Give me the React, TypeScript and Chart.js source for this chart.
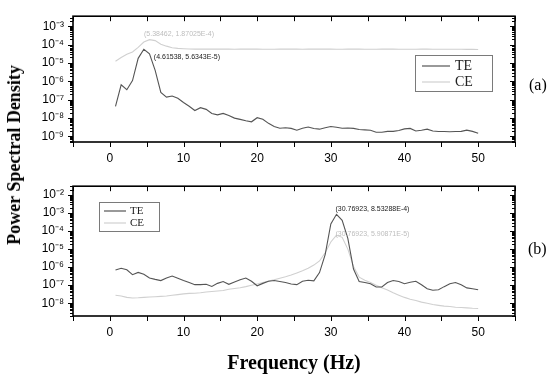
import React, { useEffect, useRef } from 'react';
import { Chart, registerables } from 'chart.js';

Chart.register(...registerables);

// ---------- data ----------
const freq = [
  0.76923, 1.53846, 2.30769, 3.07692, 3.84615, 4.61538, 5.38462, 6.15385, 6.92308, 7.69231,
  8.46154, 9.23077, 10.0, 10.76923, 11.53846, 12.30769, 13.07692, 13.84615, 14.61538, 15.38462,
  16.15385, 16.92308, 17.69231, 18.46154, 19.23077, 20.0, 20.76923, 21.53846, 22.30769, 23.07692,
  23.84615, 24.61538, 25.38462, 26.15385, 26.92308, 27.69231, 28.46154, 29.23077, 30.0, 30.76923,
  31.53846, 32.30769, 33.07692, 33.84615, 34.61538, 35.38462, 36.15385, 36.92308, 37.69231, 38.46154,
  39.23077, 40.0, 40.76923, 41.53846, 42.30769, 43.07692, 43.84615, 44.61538, 45.38462, 46.15385,
  46.92308, 47.69231, 48.46154, 49.23077, 50.0,
];

const teA = [
  4.4e-8, 6.5e-7, 3.5e-7, 1.1e-6, 1.8e-5, 5.6343e-5, 3.2e-5, 4.0e-6, 2.5e-7, 1.4e-7,
  1.6e-7, 1.2e-7, 7.1e-8, 4.4e-8, 2.6e-8, 3.7e-8, 3.0e-8, 1.8e-8, 1.5e-8, 1.8e-8,
  1.4e-8, 1.0e-8, 8.5e-9, 7.2e-9, 6.3e-9, 1.05e-8, 8.7e-9, 5.2e-9, 3.5e-9, 2.8e-9,
  3.0e-9, 2.75e-9, 2.2e-9, 2.8e-9, 3.3e-9, 2.7e-9, 2.5e-9, 3.0e-9, 3.5e-9, 3.2e-9,
  2.8e-9, 2.9e-9, 2.75e-9, 2.4e-9, 2.3e-9, 2.2e-9, 1.7e-9, 1.7e-9, 1.9e-9, 1.9e-9,
  2.1e-9, 2.6e-9, 2.75e-9, 2.0e-9, 2.2e-9, 2.5e-9, 2.0e-9, 1.85e-9, 1.85e-9, 1.8e-9,
  1.85e-9, 1.9e-9, 2.2e-9, 1.9e-9, 1.5e-9,
];

const ceA = [
  1.26e-5, 2.0e-5, 3.0e-5, 4.0e-5, 7.1e-5, 1.4e-4, 1.87025e-4, 1.66e-4, 1.05e-4, 8.3e-5,
  6.8e-5, 6.3e-5, 6.0e-5, 5.8e-5, 5.75e-5, 5.7e-5, 5.7e-5, 5.75e-5, 5.8e-5, 5.75e-5,
  5.7e-5, 5.65e-5, 5.7e-5, 5.75e-5, 5.7e-5, 5.7e-5, 5.65e-5, 5.6e-5, 5.65e-5, 5.7e-5,
  5.7e-5, 5.75e-5, 5.7e-5, 5.65e-5, 5.7e-5, 5.7e-5, 5.75e-5, 5.7e-5, 5.7e-5, 5.65e-5,
  5.65e-5, 5.7e-5, 5.7e-5, 5.7e-5, 5.65e-5, 5.6e-5, 5.65e-5, 5.7e-5, 5.7e-5, 5.7e-5,
  5.65e-5, 5.6e-5, 5.6e-5, 5.65e-5, 5.7e-5, 5.7e-5, 5.65e-5, 5.6e-5, 5.6e-5, 5.6e-5,
  5.65e-5, 5.6e-5, 5.55e-5, 5.55e-5, 5.5e-5,
];

const teB = [
  6.9e-7, 8.7e-7, 7.1e-7, 3.8e-7, 5.1e-7, 4.0e-7, 2.5e-7, 2.1e-7, 1.8e-7, 2.5e-7,
  3.2e-7, 2.4e-7, 1.8e-7, 1.4e-7, 1.07e-7, 1.07e-7, 1.12e-7, 8.5e-8, 1.26e-7, 1.6e-7,
  1.12e-7, 1.5e-7, 2.0e-7, 2.5e-7, 1.66e-7, 9.3e-8, 1.26e-7, 1.66e-7, 1.8e-7, 1.6e-7,
  1.4e-7, 1.17e-7, 1.07e-7, 1.66e-7, 1.86e-7, 1.74e-7, 5.0e-7, 5.0e-6, 2.5e-4, 8.53288e-4,
  4.0e-4, 4.0e-5, 7.9e-7, 1.6e-7, 1.4e-7, 1.2e-7, 7.9e-8, 7.9e-8, 1.4e-7, 1.8e-7,
  1.6e-7, 1.2e-7, 1.45e-7, 1.66e-7, 1.05e-7, 6.3e-8, 5.2e-8, 5.6e-8, 8.3e-8, 1.2e-7,
  1.4e-7, 1.05e-7, 7.1e-8, 6.3e-8, 5.6e-8,
];

const ceB = [
  2.75e-8, 2.5e-8, 2.1e-8, 1.95e-8, 2.0e-8, 2.1e-8, 2.2e-8, 2.3e-8, 2.4e-8, 2.5e-8,
  2.75e-8, 3.0e-8, 3.3e-8, 3.5e-8, 3.6e-8, 3.8e-8, 4.2e-8, 4.5e-8, 4.8e-8, 5.1e-8,
  5.9e-8, 6.5e-8, 7.2e-8, 8.3e-8, 9.8e-8, 1.17e-7, 1.4e-7, 1.7e-7, 2.0e-7, 2.45e-7,
  2.95e-7, 3.7e-7, 4.8e-7, 6.3e-7, 8.7e-7, 1.3e-6, 2.2e-6, 6.3e-6, 2.5e-5, 5.90871e-5,
  4.5e-5, 1.0e-5, 1.1e-6, 2.8e-7, 1.9e-7, 1.4e-7, 1.0e-7, 7.1e-8, 5.4e-8, 3.8e-8,
  2.8e-8, 2.1e-8, 1.66e-8, 1.4e-8, 1.15e-8, 1.0e-8, 8.5e-9, 7.6e-9, 6.9e-9, 6.5e-9,
  6.0e-9, 5.75e-9, 5.5e-9, 5.2e-9, 5.1e-9,
];

const xTickValues = [0, 10, 20, 30, 40, 50];
const xTickLabels = ['0', '10', '20', '30', '40', '50'];

const yTicksA = [1e-9, 1e-8, 1e-7, 1e-6, 1e-5, 1e-4, 1e-3];
const yLabelsA = ['10⁻⁹', '10⁻⁸', '10⁻⁷', '10⁻⁶', '10⁻⁵', '10⁻⁴', '10⁻³'];
const yTicksB = [1e-8, 1e-7, 1e-6, 1e-5, 1e-4, 1e-3, 1e-2];
const yLabelsB = ['10⁻⁸', '10⁻⁷', '10⁻⁶', '10⁻⁵', '10⁻⁴', '10⁻³', '10⁻²'];

const seriesNames = ['TE', 'CE'];
const peakNotesA = ['(4.61538, 5.6343E-5)', '(5.38462, 1.87025E-4)'];
const peakNotesB = ['(30.76923, 8.53288E-4)', '(30.76923, 5.90871E-5)'];

// ---------- styles ----------
const TE_COLOR = '#555555';
const CE_COLOR = '#d0d0d0';
const SANS = '"Liberation Sans", Arial, sans-serif';
const SERIF = '"Liberation Serif", "Times New Roman", serif';

function peakIndex(arr: number[]) {
  let k = 0;
  for (let i = 1; i < arr.length; i++) if (arr[i] > arr[k]) k = i;
  return k;
}

const framePlugin = {
  id: 'frame',
  afterDatasetsDraw(chart: any, _args: any, opts: any) {
    const { ctx, chartArea: a, scales } = chart;
    const xs = scales.x;
    const ys = scales.y;
    ctx.save();
    ctx.strokeStyle = '#000';
    ctx.lineWidth = 1;
    ctx.beginPath();
    for (let v = xs.min; v <= xs.max + 1e-9; v += 5) {
      const px = Math.round(xs.getPixelForValue(v)) + 0.5;
      ctx.moveTo(px, a.bottom);
      ctx.lineTo(px, a.bottom + 5);
      ctx.moveTo(px, a.top);
      ctx.lineTo(px, a.top + 5);
    }
    const lo = Math.floor(Math.log10(ys.min));
    const hi = Math.ceil(Math.log10(ys.max));
    for (let d = lo; d <= hi; d++) {
      for (let m = 1; m <= 9; m++) {
        const v = m * Math.pow(10, d);
        if (v < ys.min || v > ys.max) continue;
        const py = Math.round(ys.getPixelForValue(v)) + 0.5;
        const len = m === 1 ? 5 : 3;
        ctx.moveTo(a.left - len, py);
        ctx.lineTo(a.left, py);
        ctx.moveTo(a.right - len, py);
        ctx.lineTo(a.right, py);
      }
    }
    ctx.stroke();
    ctx.lineWidth = 1.6;
    ctx.strokeRect(a.left, a.top, a.right - a.left, a.bottom - a.top);

    // peak notes
    (opts.notes || []).forEach((n: any) => {
      const ds = chart.data.datasets[n.ds];
      const pt = ds.data[n.idx];
      const px = xs.getPixelForValue(pt.x);
      const py = ys.getPixelForValue(pt.y);
      ctx.font = `7px ${SANS}`;
      ctx.fillStyle = n.color;
      ctx.textAlign = 'left';
      ctx.textBaseline = 'middle';
      ctx.fillText(n.text, px + n.dx, py + n.dy);
    });

    // legend
    const L = opts.legend;
    if (L) {
      ctx.lineWidth = 1;
      ctx.strokeStyle = '#7a7a7a';
      ctx.strokeRect(L.x + 0.5, L.y + 0.5, L.w, L.h);
      chart.data.datasets.forEach((ds: any, i: number) => {
        const yy = L.rows[i];
        ctx.strokeStyle = ds.borderColor;
        ctx.lineWidth = 1.2;
        ctx.beginPath();
        ctx.moveTo(L.x1, yy);
        ctx.lineTo(L.x2, yy);
        ctx.stroke();
        ctx.font = `${L.size}px ${SERIF}`;
        ctx.fillStyle = '#222';
        ctx.textAlign = 'left';
        ctx.textBaseline = 'middle';
        ctx.fillText(ds.label, L.tx, yy);
      });
    }
    ctx.restore();
  },
};

function makeConfig(
  te: number[],
  ce: number[],
  yMin: number,
  yMax: number,
  yTicks: number[],
  yLabels: string[],
  padTop: number,
  xAxisHeight: number,
  showTitle: boolean,
  frameOpts: any
) {
  return {
    type: 'line',
    data: {
      datasets: [
        {
          label: seriesNames[0],
          data: freq.map((f, i) => ({ x: f, y: te[i] })),
          borderColor: TE_COLOR,
          borderWidth: 1.1,
          pointRadius: 0,
          tension: 0,
          fill: false,
        },
        {
          label: seriesNames[1],
          data: freq.map((f, i) => ({ x: f, y: ce[i] })),
          borderColor: CE_COLOR,
          borderWidth: 1.1,
          pointRadius: 0,
          tension: 0,
          fill: false,
        },
      ],
    },
    options: {
      animation: false,
      responsive: false,
      maintainAspectRatio: false,
      devicePixelRatio: 1,
      layout: { padding: { top: padTop, right: 35, left: 0, bottom: 0 } },
      plugins: {
        legend: { display: false },
        tooltip: { enabled: false },
        frame: frameOpts,
      },
      scales: {
        x: {
          type: 'linear',
          min: -5,
          max: 55,
          grid: { display: false, drawTicks: false },
          border: { display: false },
          ticks: {
            stepSize: 5,
            autoSkip: false,
            maxRotation: 0,
            padding: 9,
            color: '#000',
            font: { family: SANS, size: 12 },
            callback: (v: number) => {
              const k = xTickValues.indexOf(v);
              return k >= 0 ? xTickLabels[k] : '';
            },
          },
          title: {
            display: showTitle,
            text: 'Frequency (Hz)',
            color: '#000',
            font: { family: SERIF, size: 20, weight: 'bold' },
            padding: { top: 0, bottom: 3 },
          },
          afterFit: (s: any) => {
            s.height = xAxisHeight;
          },
        },
        y: {
          type: 'logarithmic',
          min: yMin,
          max: yMax,
          grid: { display: false, drawTicks: false },
          border: { display: false },
          afterBuildTicks: (s: any) => {
            s.ticks = yTicks.map((v) => ({ value: v }));
          },
          ticks: {
            padding: 9,
            color: '#000',
            autoSkip: false,
            font: { family: SANS, size: 12 },
            callback: (_v: number, i: number) => yLabels[i],
          },
          afterFit: (s: any) => {
            s.width = 73;
          },
        },
      },
    },
    plugins: [framePlugin],
  };
}

export default function App() {
  const refA = useRef<HTMLCanvasElement>(null);
  const refB = useRef<HTMLCanvasElement>(null);

  useEffect(() => {
    const pA = peakIndex(teA);
    const cA = peakIndex(ceA);
    const pB = peakIndex(teB);
    const cB = peakIndex(ceB);
    const chartA = new Chart(
      refA.current as HTMLCanvasElement,
      makeConfig(teA, ceA, 5e-10, 3.55e-3, yTicksA, yLabelsA, 9, 28, false, {
        notes: [
          { ds: 0, idx: pA, dx: 10, dy: 7.5, text: peakNotesA[0], color: '#1a1a1a' },
          { ds: 1, idx: cA, dx: -5.5, dy: -6, text: peakNotesA[1], color: '#bdbdbd' },
        ],
        legend: { x: 415, y: 55, w: 77, h: 36, x1: 422, x2: 450, tx: 455, rows: [66, 82], size: 14 },
      }) as any
    );
    const chartB = new Chart(
      refB.current as HTMLCanvasElement,
      makeConfig(teB, ceB, 1.95e-9, 3.1e-2, yTicksB, yLabelsB, 14, 63, true, {
        notes: [
          { ds: 0, idx: pB, dx: -1, dy: -5, text: peakNotesB[0], color: '#1a1a1a' },
          { ds: 1, idx: cB, dx: -1, dy: -1, text: peakNotesB[1], color: '#bdbdbd' },
        ],
        legend: { x: 99, y: 32, w: 60, h: 29, x1: 104, x2: 126, tx: 130, rows: [41, 53], size: 11 },
      }) as any
    );
    return () => {
      chartA.destroy();
      chartB.destroy();
    };
  }, []);

  return (
    <div style={{ position: 'absolute', left: 0, top: 0, width: 550, height: 379, background: '#fff', overflow: 'hidden' }}>
      <canvas ref={refA} width={550} height={170} style={{ position: 'absolute', left: 0, top: 0, width: 550, height: 170 }} />
      <canvas ref={refB} width={550} height={209} style={{ position: 'absolute', left: 0, top: 170, width: 550, height: 209 }} />
      <div
        style={{
          position: 'absolute',
          left: 14,
          top: 155,
          transform: 'translate(-50%, -50%) rotate(-90deg)',
          font: `bold 18px ${SERIF}`,
          lineHeight: '18px',
          whiteSpace: 'nowrap',
          color: '#000',
        }}
      >
        Power Spectral Density
      </div>
      <div style={{ position: 'absolute', left: 529, top: 77, font: `16px ${SERIF}`, lineHeight: '16px', color: '#000' }}>(a)</div>
      <div style={{ position: 'absolute', left: 528, top: 241, font: `16px ${SERIF}`, lineHeight: '16px', color: '#000' }}>(b)</div>
    </div>
  );
}
